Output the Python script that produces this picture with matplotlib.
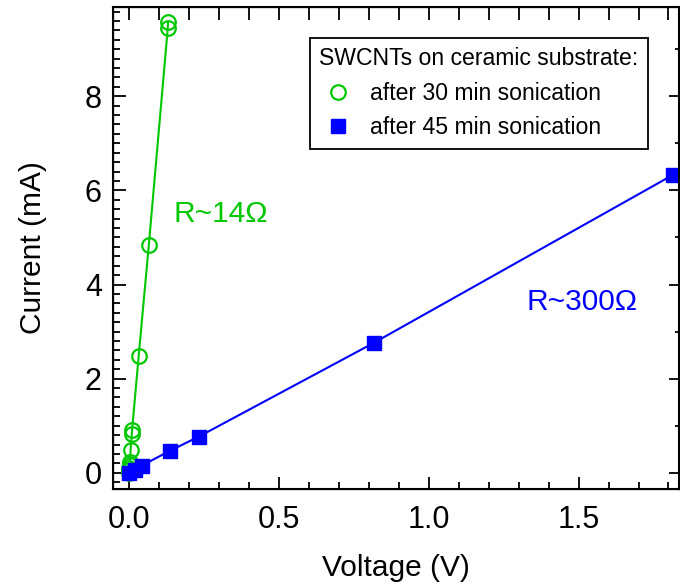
import numpy as np
import matplotlib
matplotlib.use("Agg")
import matplotlib.pyplot as plt
from matplotlib.ticker import MultipleLocator, NullFormatter, FormatStrFormatter
from matplotlib.lines import Line2D

plt.rcParams['font.family'] = ['Liberation Sans', 'DejaVu Sans']

# green: after 30 min sonication
v30 = [0.0, 0.001, 0.002, 0.003, 0.004, 0.006, 0.010, 0.011, 0.033, 0.067, 0.130, 0.131]
i30 = [0.0, 0.05, 0.10, 0.17, 0.23, 0.48, 0.82, 0.90, 2.48, 4.85, 9.44, 9.58]

# blue: after 45 min sonication
v45 = [0.0, 0.02, 0.044, 0.138, 0.234, 0.817, 1.815]
i45 = [0.0, 0.06, 0.155, 0.47, 0.77, 2.76, 6.33]

green = '#00C800'
blue = '#0000FF'

fig = plt.figure(figsize=(6.8, 5.84), dpi=100)
ax = fig.add_axes([0.166, 0.163, 0.8325, 0.8245])

ax.plot(v30, i30, '-', color=green, lw=1.5, marker='o', ms=10.5, mfc='none',
        mec=green, mew=1.6)
ax.plot(v45, i45, '-', color=blue, lw=1.5, marker='s', ms=10, mfc=blue,
        mec=blue)

ax.set_xlim(-0.053, 1.835)
ax.set_ylim(-0.34, 9.89)

ax.xaxis.set_major_locator(MultipleLocator(0.5))
ax.xaxis.set_minor_locator(MultipleLocator(0.1))
ax.yaxis.set_major_locator(MultipleLocator(2))
ax.yaxis.set_minor_locator(MultipleLocator(0.2))
ax.xaxis.set_major_formatter(FormatStrFormatter('%.1f'))

ax.tick_params(which='both', direction='in', labelsize=22, width=1.3)
ax.tick_params(which='major', length=9)
ax.tick_params(which='minor', length=5)
ax.tick_params(axis='x', pad=12)
ax.tick_params(axis='y', pad=8)
for s in ax.spines.values():
    s.set_linewidth(1.5)

# mirrored axes
axt = ax.twiny()
axt.set_xlim(ax.get_xlim())
axt.xaxis.set_major_locator(MultipleLocator(0.1))
axt.xaxis.set_major_formatter(NullFormatter())
axt.tick_params(direction='in', length=9, width=1.3)

axr = ax.twinx()
axr.set_ylim(ax.get_ylim())
axr.yaxis.set_major_locator(MultipleLocator(2))
axr.yaxis.set_minor_locator(MultipleLocator(1))
axr.yaxis.set_major_formatter(NullFormatter())
axr.tick_params(which='both', direction='in', width=1.3)
axr.tick_params(which='major', length=7)
axr.tick_params(which='minor', length=3)

ax.set_xlabel('Voltage (V)', fontsize=21.5, labelpad=13)
ax.set_ylabel('Current (mA)', fontsize=21.5, labelpad=27)

ax.text(0.306, 5.5, 'R~14Ω', color=green, fontsize=21.5, ha='center', va='center')
ax.text(1.51, 3.62, 'R~300Ω', color=blue, fontsize=21.5, ha='center', va='center')

handles = [
    Line2D([], [], ls='none', marker='o', ms=10.5, mfc='none', mec=green, mew=1.6),
    Line2D([], [], ls='none', marker='s', ms=10, mfc=blue, mec=blue),
]
labels = ['after 30 min sonication', 'after 45 min sonication']
leg = ax.legend(handles, labels, title='SWCNTs on ceramic substrate:',
                loc='upper right', bbox_to_anchor=(0.945, 0.936),
                borderaxespad=0, fontsize=16.6, title_fontsize=16.6,
                fancybox=False, edgecolor='black', framealpha=1,
                handlelength=1.6, handletextpad=0.6, labelspacing=0.5,
                borderpad=0.4)
leg.get_frame().set_linewidth(1.3)
leg._legend_box.align = 'left'
leg.set_zorder(5)

fig.savefig('out.png', dpi=100)
